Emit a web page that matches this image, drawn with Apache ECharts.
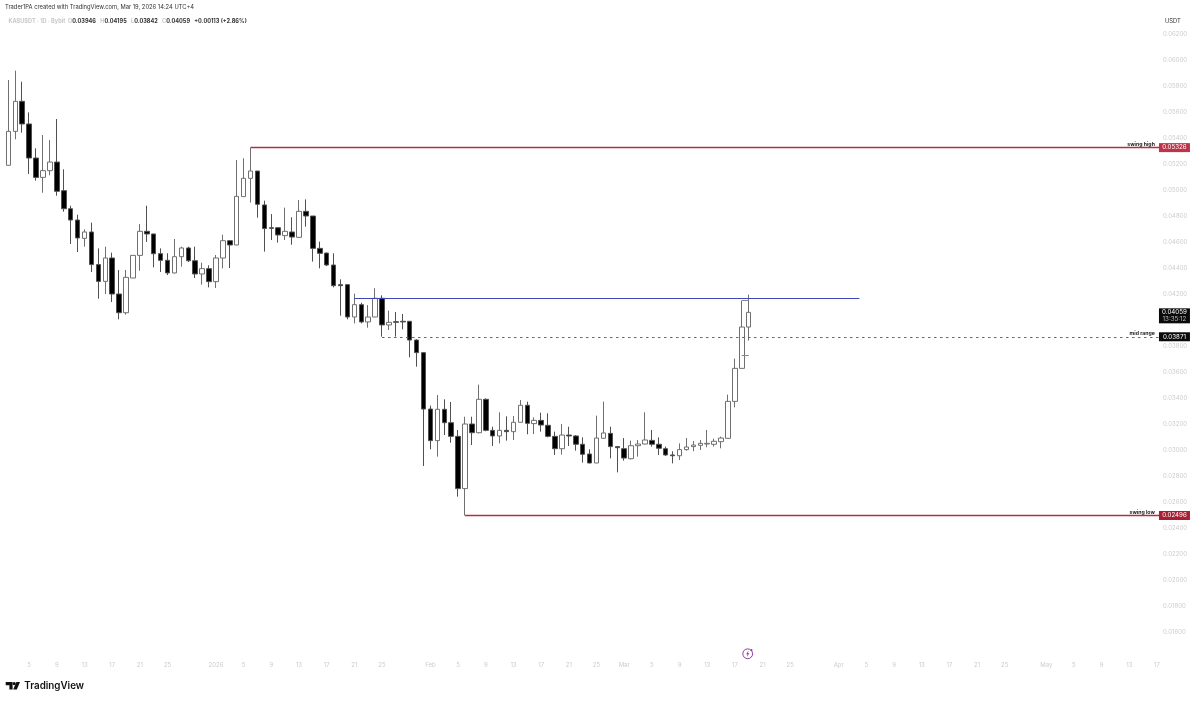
<!DOCTYPE html>
<html>
<head>
<meta charset="utf-8">
<title>KASUSDT</title>
<script src="https://cdn.jsdelivr.net/npm/echarts@6/dist/echarts.min.js"></script>
<style>
  html, body { margin: 0; padding: 0; background: #fff; }
  #main { width: 1200px; height: 701px; }
</style>
</head>
<body>
<div id="main"></div>
<script>
// daily candles, Dec 2 to Mar 19
const opens = [
  .05190,.05451,.05682,.05508,.05246,.05097,.05149,.05215,.04995,.04856,.04769,.04628,.04677,.04426,.04297,.04477,.04200,.04056,
  .04323,.04497,.04682,.04662,.04510,.04459,.04362,.04487,.04554,.04456,.04354,.04395,.04295,.04477,.04610,.04577,.04949,.05090,
  .05146,.04885,.04710,.04710,.04649,.04677,.04636,.04836,.04800,.04551,.04515,.04423,.04272,.04272,.04023,.04118,.03985,.04023,
  .04167,.03962,.03987,.03990,.03990,.03846,.03749,.03315,.03072,.03313,.03210,.03105,.02703,.03200,.03133,.03390,.03151,.03108,
  .03151,.03141,.03213,.03344,.03203,.03228,.03190,.03105,.03010,.03115,.03108,.03044,.02969,.02900,.03090,.03128,.03026,.03010,
  .02933,.03033,.03046,.03074,.03044,.03010,.02962,.02956,.03003,.03026,.03036,.03046,.03044,.03064,.03090,.03374,.03628,.03946
];
const highs = [
  .05846,.05918,.05833,.05597,.05321,.05423,.05385,.05546,.05159,.04879,.04810,.04697,.04749,.04551,.04564,.04518,.04385,.04385,
  .04497,.04738,.04879,.04662,.04551,.04513,.04623,.04564,.04564,.04564,.04441,.04421,.04500,.04656,.04615,.05231,.05244,.05326,
  .05146,.04918,.04815,.04713,.04864,.04790,.04923,.04928,.04800,.04603,.04518,.04513,.04313,.04272,.04203,.04133,.04115,.04244,
  .04190,.04072,.04062,.04046,.03992,.03851,.03749,.03341,.03423,.03390,.03369,.03154,.03256,.03256,.03503,.03397,.03179,.03290,
  .03259,.03262,.03385,.03372,.03251,.03287,.03282,.03141,.03200,.03179,.03115,.03097,.03005,.03264,.03372,.03179,.03031,.03092,
  .03072,.03077,.03290,.03154,.03097,.03026,.02990,.03051,.03092,.03069,.03077,.03154,.03087,.03103,.03426,.03703,.04149,.04195
];
const lows = [
  .05190,.05390,.05441,.05123,.05072,.04979,.05113,.04956,.04833,.04585,.04523,.04564,.04369,.04164,.04200,.04138,.04005,.04041,
  .04323,.04379,.04600,.04405,.04369,.04346,.04359,.04410,.04446,.04323,.04272,.04251,.04246,.04397,.04400,.04577,.04949,.04903,
  .04787,.04526,.04615,.04595,.04615,.04579,.04636,.04718,.04449,.04397,.04415,.04251,.04033,.04005,.03974,.03974,.03941,.04023,
  .03872,.03923,.03872,.03928,.03713,.03641,.02877,.03005,.02949,.03115,.03056,.02641,.02496,.03038,.03128,.03144,.03031,.03051,
  .03072,.03077,.03213,.03121,.03123,.03141,.03097,.02962,.02964,.03031,.02995,.02903,.02897,.02900,.03087,.02936,.02828,.02918,
  .02928,.02949,.03044,.03026,.02962,.02954,.02897,.02923,.02995,.02990,.03000,.03021,.03026,.03013,.03090,.03328,.03628,.03842
];
const closes = [
  .05451,.05682,.05508,.05246,.05097,.05149,.05215,.04990,.04856,.04769,.04631,.04677,.04426,.04297,.04477,.04200,.04056,.04328,
  .04497,.04682,.04662,.04510,.04459,.04362,.04487,.04554,.04456,.04354,.04395,.04295,.04477,.04610,.04577,.04951,.05090,.05146,
  .04890,.04703,.04705,.04654,.04682,.04638,.04836,.04800,.04551,.04513,.04423,.04264,.04264,.04023,.04118,.03985,.04023,.04167,
  .03962,.03982,.03982,.03985,.03846,.03749,.03315,.03072,.03313,.03210,.03105,.02703,.03200,.03133,.03390,.03151,.03108,.03151,
  .03141,.03213,.03344,.03205,.03228,.03192,.03105,.03010,.03115,.03108,.03044,.02967,.02900,.03092,.03131,.03026,.03018,.02938,
  .03033,.03046,.03077,.03044,.03013,.02962,.02956,.03003,.03023,.03038,.03051,.03051,.03067,.03092,.03374,.03628,.03946,.04059
];

// x axis runs on to May 18 so the levels reach the price tags
const months = [['Dec', 2, 31], ['Jan', 1, 31], ['Feb', 1, 28], ['Mar', 1, 31], ['Apr', 1, 30], ['May', 1, 18]];
const tickDays = [5, 9, 13, 17, 21, 25];

const swingHigh = 0.05326;
const swingLow = 0.02496;
const midRange = 0.03871;
const resistance = 0.04167;
const lastClose = 0.04059;

const categories = [];
const tickText = {};
months.forEach(([name, from, to]) => {
  for (let d = from; d <= to; d++) {
    const key = name + ' ' + d;
    categories.push(key);
    if (d === 1) tickText[key] = name === 'Jan' ? '2026' : name;
    else if (tickDays.includes(d)) tickText[key] = String(d);
  }
});
const candles = opens.map((o, i) => [o, closes[i], lows[i], highs[i]]);
const lastCat = categories[categories.length - 1];
const lastTagCat = categories[categories.length - 2];

const level = (from, to, value, color, width, type, text) => [
  {
    coord: [from, value],
    lineStyle: { color: color, width: width, type: type },
    label: {
      show: !!text, formatter: text || '', position: 'insideEndTop', distance: [9, 1],
      fontSize: 5.2, fontWeight: 'bold', color: '#222', fontFamily: 'Inter'
    }
  },
  { coord: [to, value] }
];

const tag = (value, color, text, h, dy) => ({
  coord: [lastTagCat, value],
  symbol: 'rect',
  symbolSize: [31, h],
  symbolOffset: [17.5, dy],
  itemStyle: { color: color },
  label: {
    show: true, position: 'inside', formatter: text, color: '#fff',
    fontSize: 6.2, lineHeight: 7.2, fontFamily: 'Inter',
    rich: {
      dim: { fontSize: 6.2, lineHeight: 7.2, color: '#bbb', fontFamily: 'Inter' }
    }
  }
});

const option = {
  animation: false,
  backgroundColor: '#fff',
  textStyle: { fontFamily: 'Inter' },
  title: [
    {
      text: 'Trader1PA created with TradingView.com, Mar 19, 2026 14:24 UTC+4',
      left: 5, top: 4.5, padding: 0,
      textStyle: { fontSize: 5.8, fontWeight: 'normal', color: '#333', fontFamily: 'Inter' }
    },
    {
      text: '{g|KASUSDT · 1D · Bybit  O}{k|0.03946} {g|H}{k|0.04195} {g|L}{k|0.03842} {g|C}{k|0.04059} {k|+0.00113 (+2.86%)}',
      left: 8.5, top: 12.5, padding: 0,
      textStyle: {
        rich: {
          g: { fontSize: 5.6, color: '#c8c8c8', fontFamily: 'Inter' },
          k: { fontSize: 5.6, color: '#333', fontFamily: 'Inter' }
        }
      }
    },
    {
      text: 'USDT',
      left: 1165, top: 18.5, padding: 0,
      textStyle: { fontSize: 5.8, fontWeight: 'normal', color: '#333', fontFamily: 'Inter' }
    }
  ],
  grid: { left: 4.94, right: 32.66, top: 34, bottom: 69 },
  xAxis: {
    type: 'category',
    data: categories,
    boundaryGap: true,
    axisLine: { show: false },
    axisTick: { show: false },
    splitLine: { show: false },
    axisLabel: {
      interval: (i, v) => tickText[v] !== undefined,
      formatter: v => tickText[v] || '',
      margin: 30,
      fontSize: 6,
      color: '#cccccc',
      fontFamily: 'Inter',
      hideOverlap: false
    }
  },
  yAxis: {
    type: 'value',
    position: 'right',
    min: 0.016,
    max: 0.062,
    interval: 0.002,
    axisLine: { show: false },
    axisTick: { show: false },
    splitLine: { show: false },
    axisLabel: {
      margin: -4.3,
      fontSize: 6,
      color: '#cccccc',
      fontFamily: 'Inter',
      formatter: v => v.toFixed(5)
    }
  },
  series: [
    {
      type: 'candlestick',
      data: candles,
      barWidth: 5,
      clip: false,
      itemStyle: {
        color: '#fff',
        color0: '#000',
        borderColor: '#707070',
        borderColor0: '#505050',
        borderColorDoji: '#505050',
        borderWidth: 1
      },
      markLine: {
        silent: true,
        symbol: 'none',
        animation: false,
        data: [
          level(categories[35], lastCat, swingHigh, '#ae3044', 1.4, 'solid', 'swing high'),
          level(categories[66], lastCat, swingLow, '#ae3044', 1.4, 'solid', 'swing low'),
          level(categories[54], lastCat, midRange, '#666', 1, [2.5, 3.5], 'mid range'),
          level(categories[50], categories[123], resistance, '#3f46b5', 1.2, 'solid'),
          // small drawing remnants by the last two candles
          level(categories[106], categories[107], 0.04149, '#888', 1, 'solid'),
          level(categories[106], categories[107], 0.03731, '#888', 1, 'solid')
        ]
      },
      markPoint: {
        silent: true,
        animation: false,
        data: [
          tag(swingHigh, '#bd3349', '0.05326', 9, 0),
          tag(swingLow, '#a81f33', '0.02496', 9, 0),
          tag(midRange, '#0a0a0a', '0.03871', 9, 0),
          tag(lastClose, '#0a0a0a', '0.04059\n{dim|13:35:12}', 15, 3.5)
        ]
      }
    }
  ],
  graphic: [
    // TradingView logo, bottom left
    { type: 'polygon', shape: { points: [[5.7, 682], [12.6, 682], [12.6, 689.4], [9.4, 689.4], [9.4, 685.2], [5.7, 685.2]] }, style: { fill: '#111' } },
    { type: 'circle', shape: { cx: 14.2, cy: 683.6, r: 1.6 }, style: { fill: '#111' } },
    { type: 'polygon', shape: { points: [[16.4, 682], [20, 682], [16.8, 689.4], [13.2, 689.4]] }, style: { fill: '#111' } },
    {
      type: 'text', left: 24.3, top: 681,
      style: { text: 'TradingView', font: '600 9.8px Inter', fill: '#111' }
    },
    // event marker on the time axis
    { type: 'circle', shape: { cx: 747.7, cy: 653.8, r: 4.9 }, style: { fill: '#fff', stroke: '#8a3f9e', lineWidth: 1 } },
    { type: 'polygon', shape: { points: [[748.6, 650.6], [746.2, 654.2], [747.6, 654.2], [746.9, 657], [749.3, 653.3], [747.9, 653.3]] }, style: { fill: '#b0306a' } },
    { type: 'circle', shape: { cx: 751.5, cy: 650, r: 1 }, style: { fill: '#8a3f9e' } }
  ]
};

const chart = echarts.init(document.getElementById('main'), null, { renderer: 'canvas' });
chart.setOption(option);
</script>
</body>
</html>
